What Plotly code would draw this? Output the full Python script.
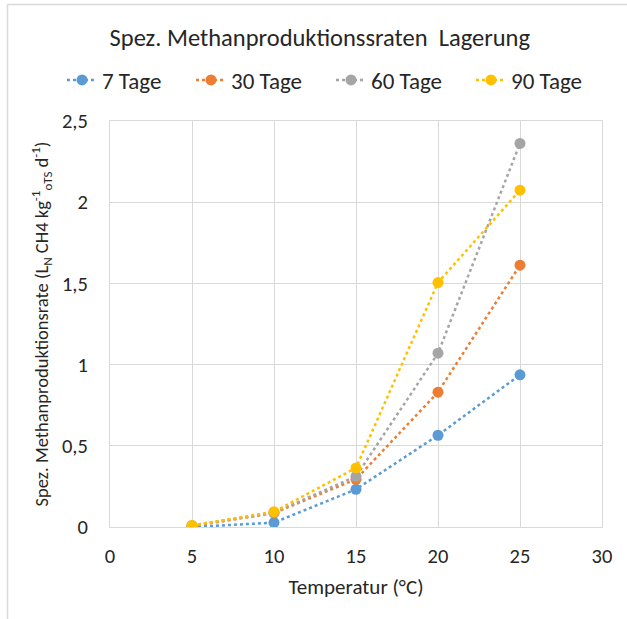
import plotly.graph_objects as go

temperatures = [5, 10, 15, 20, 25]
series_names = ["7 Tage", "30 Tage", "60 Tage", "90 Tage"]
values_7 = [0.0, 0.027, 0.232, 0.565, 0.937]
values_30 = [0.005, 0.086, 0.294, 0.83, 1.612]
values_60 = [0.01, 0.088, 0.312, 1.07, 2.362]
values_90 = [0.01, 0.094, 0.364, 1.505, 2.074]
colors = ["#5B9BD5", "#ED7D31", "#A5A5A5", "#FFC000"]

x_ticks = [0, 5, 10, 15, 20, 25, 30]
y_ticks = [0, 0.5, 1, 1.5, 2, 2.5]

FONT = "Carlito, Lato, 'Open Sans', sans-serif"
W, H = 627, 619
L, R, T, B = 110, 25, 121, 92
pw, ph = W - L - R, H - T - B

def px_to_paper_x(px):
    return (px - L) / pw

def px_to_paper_y(py):
    return (H - B - py) / ph

legend_ids = ["legend", "legend2", "legend3", "legend4"]
legend_marker_px = [82, 211, 351, 491]

fig = go.Figure()
for name, vals, col, lid in zip(series_names, [values_7, values_30, values_60, values_90], colors, legend_ids):
    fig.add_trace(go.Scatter(
        x=temperatures, y=vals, name=name, mode="lines+markers",
        line=dict(color=col, width=2.5, dash="dot"),
        marker=dict(color=col, size=11, symbol="circle"),
        legend=lid,
    ))

border_col = "#D9D9D9"
fig.add_shape(type="line", xref="paper", yref="paper",
              x0=px_to_paper_x(7.5), x1=px_to_paper_x(7.5),
              y0=px_to_paper_y(4.5), y1=px_to_paper_y(H + 5),
              line=dict(color=border_col, width=1.5))
fig.add_shape(type="line", xref="paper", yref="paper",
              x0=px_to_paper_x(7.5), x1=px_to_paper_x(W + 5),
              y0=px_to_paper_y(4.5), y1=px_to_paper_y(4.5),
              line=dict(color=border_col, width=1.5))

legend_layout = {}
for lid, mx in zip(legend_ids, legend_marker_px):
    legend_layout[lid] = dict(
        orientation="h", x=px_to_paper_x(mx - 20), xanchor="left",
        y=px_to_paper_y(80), yanchor="middle",
        font=dict(family=FONT, size=23, color="#262626"),
        bgcolor="rgba(0,0,0,0)", borderwidth=0,
    )

fig.update_layout(
    width=W, height=H,
    margin=dict(l=L, r=R, t=T, b=B, pad=0),
    paper_bgcolor="white", plot_bgcolor="white",
    separators=", ",
    font=dict(family=FONT, size=20, color="#404040"),
    title=dict(text="Spez. Methanproduktionssraten  Lagerung",
               x=0.51, xanchor="center", y=1 - 37 / H, yanchor="middle",
               font=dict(family=FONT, size=24.5, color="#262626")),
    showlegend=True,
    **legend_layout,
)

fig.update_xaxes(
    range=[0, 30], tickvals=x_ticks, showgrid=True, gridcolor="#D9D9D9", gridwidth=1,
    zeroline=False, showline=True, linecolor="#D9D9D9", linewidth=1, mirror=True,
    ticks="", ticklabelstandoff=10,
    tickfont=dict(family=FONT, size=20.5, color="#262626"),
    title=dict(text="Temperatur (°C)", standoff=11,
               font=dict(family=FONT, size=21, color="#262626")),
)
fig.update_yaxes(
    range=[0, 2.5], tickvals=y_ticks, showgrid=True, gridcolor="#D9D9D9", gridwidth=1,
    zeroline=False, showline=True, linecolor="#D9D9D9", linewidth=1, mirror=True,
    ticks="", ticklabelstandoff=17,
    tickfont=dict(family=FONT, size=20.5, color="#262626"),
    title=dict(text="Spez. Methanproduktionsrate (L<sub>N</sub> CH4 kg<sup>-1</sup><sub>oTS</sub> d<sup>-1</sup>)",
               standoff=8, font=dict(family=FONT, size=18.5, color="#262626")),
)

fig.write_html("out.html")
